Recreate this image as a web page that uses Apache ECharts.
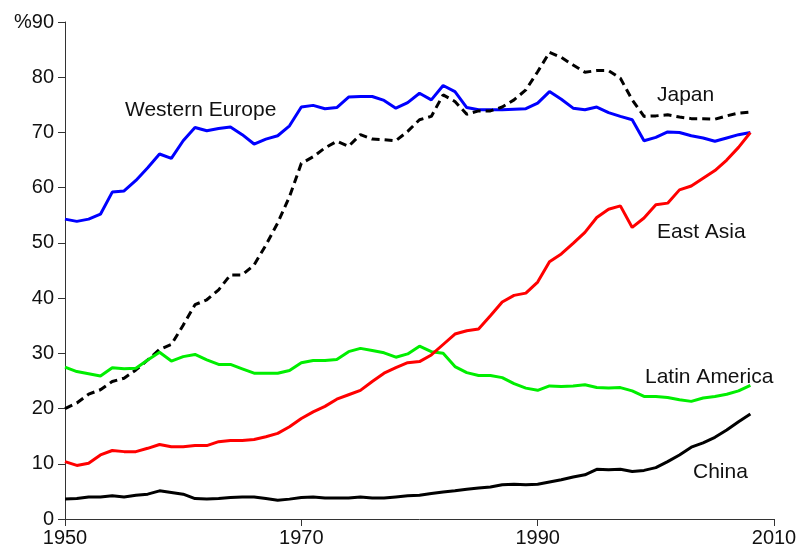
<!DOCTYPE html>
<html>
<head>
<meta charset="utf-8">
<script src="https://cdn.jsdelivr.net/npm/echarts@6/dist/echarts.min.js"></script>
<style>
  html, body { margin: 0; padding: 0; background: #fff; }
  #chart { width: 799px; height: 548px; }
</style>
</head>
<body>
<div id="chart"></div>
<script>
// years on the x axis (1950 - 2010)
var years = ['1950','1951','1952','1953','1954','1955','1956','1957','1958','1959',
             '1960','1961','1962','1963','1964','1965','1966','1967','1968','1969',
             '1970','1971','1972','1973','1974','1975','1976','1977','1978','1979',
             '1980','1981','1982','1983','1984','1985','1986','1987','1988','1989',
             '1990','1991','1992','1993','1994','1995','1996','1997','1998','1999',
             '2000','2001','2002','2003','2004','2005','2006','2007','2008','2009','2010'];

// series values, 1950 - 2008
var westernEurope = [54.3, 53.9, 54.3, 55.2, 59.2, 59.4, 61.3, 63.6, 66.1, 65.3,
                     68.5, 70.9, 70.3, 70.7, 71.0, 69.6, 67.9, 68.8, 69.4, 71.2,
                     74.6, 74.9, 74.3, 74.5, 76.4, 76.5, 76.5, 75.8, 74.4, 75.4,
                     77.1, 75.9, 78.5, 77.4, 74.5, 74.1, 74.1, 74.1, 74.2, 74.3,
                     75.3, 77.4, 76.0, 74.4, 74.1, 74.6, 73.6, 72.9, 72.3, 68.5,
                     69.1, 70.1, 70.0, 69.4, 69.0, 68.4, 69.0, 69.6, 70.0];
var japan = [20.0, 21.0, 22.6, 23.4, 24.9, 25.5, 27.0, 28.8, 30.7, 31.6,
             35.1, 38.8, 39.7, 41.5, 44.2, 44.2, 46.0, 49.6, 53.6, 58.4,
             64.4, 65.6, 67.2, 68.4, 67.5, 69.6, 68.8, 68.7, 68.5, 70.2,
             72.3, 72.9, 76.8, 75.6, 73.3, 73.9, 73.9, 74.6, 75.9, 77.7,
             81.0, 84.5, 83.6, 82.2, 80.9, 81.2, 81.2, 79.8, 75.9, 72.9,
             73.0, 73.2, 72.8, 72.5, 72.5, 72.4, 73.0, 73.5, 73.7];
var eastAsia = [10.4, 9.7, 10.1, 11.6, 12.4, 12.2, 12.2, 12.8, 13.5, 13.1,
                13.1, 13.3, 13.3, 14.0, 14.2, 14.2, 14.4, 14.9, 15.5, 16.7,
                18.2, 19.4, 20.4, 21.7, 22.5, 23.3, 24.9, 26.4, 27.4, 28.3,
                28.5, 29.7, 31.6, 33.5, 34.1, 34.4, 36.8, 39.3, 40.5, 40.9,
                42.9, 46.6, 48.0, 49.9, 51.9, 54.6, 56.1, 56.7, 52.8, 54.5,
                56.9, 57.2, 59.6, 60.3, 61.7, 63.1, 65.0, 67.3, 70.0];
var latinAmerica = [27.5, 26.7, 26.3, 25.9, 27.4, 27.2, 27.3, 28.8, 30.2, 28.6,
                    29.4, 29.8, 28.8, 28.0, 28.0, 27.2, 26.4, 26.4, 26.4, 26.9,
                    28.3, 28.7, 28.7, 28.9, 30.3, 30.9, 30.5, 30.1, 29.3, 29.9,
                    31.3, 30.3, 30.0, 27.6, 26.5, 26.0, 26.0, 25.6, 24.5, 23.7,
                    23.3, 24.1, 24.0, 24.1, 24.3, 23.8, 23.7, 23.8, 23.2, 22.2,
                    22.2, 22.0, 21.6, 21.3, 21.9, 22.2, 22.6, 23.2, 24.2];
var china = [3.6, 3.7, 4.0, 4.0, 4.2, 4.0, 4.3, 4.5, 5.1, 4.8,
             4.5, 3.7, 3.6, 3.7, 3.9, 4.0, 4.0, 3.7, 3.4, 3.6,
             3.9, 4.0, 3.8, 3.8, 3.8, 4.0, 3.8, 3.8, 4.0, 4.2,
             4.3, 4.6, 4.9, 5.1, 5.4, 5.6, 5.8, 6.2, 6.3, 6.2,
             6.3, 6.7, 7.1, 7.6, 8.0, 9.0, 8.9, 9.0, 8.6, 8.8,
             9.3, 10.4, 11.6, 13.0, 13.8, 14.8, 16.1, 17.6, 19.0];

var fontFamily = '"Liberation Sans", Arial, sans-serif';
var textColor = '#111';

var myChart = echarts.init(document.getElementById('chart'));

function lineSeries(name, data, color, dash) {
    return {
        name: name,
        type: 'line',
        data: data,
        showSymbol: false,
        symbol: 'none',
        lineStyle: { color: color, width: 3, type: dash ? [8, 5] : 'solid' },
        itemStyle: { color: color },
        emphasis: { disabled: true }
    };
}

// region labels
function regionLabel(text, x, y) {
    return {
        type: 'text',
        x: x,
        y: y,
        style: {
            text: text,
            fill: textColor,
            font: '21px ' + fontFamily,
            align: 'left',
            verticalAlign: 'middle'
        }
    };
}

var option = {
    animation: false,
    grid: { left: 65, right: 25, top: 22, bottom: 29, outerBoundsMode: 'none' },
    xAxis: {
        type: 'category',
        data: years,
        boundaryGap: false,
        axisLine: { lineStyle: { color: '#333', width: 1 } },
        axisTick: { show: true, interval: 19, length: 7, lineStyle: { color: '#333' } },
        axisLabel: { interval: 19, margin: 9, fontSize: 20, color: textColor, fontFamily: fontFamily },
        splitLine: { show: false }
    },
    yAxis: {
        type: 'value',
        min: 0,
        max: 90,
        interval: 10,
        axisLine: { show: true, lineStyle: { color: '#333', width: 1 } },
        axisTick: { show: true, length: 7, lineStyle: { color: '#333' } },
        axisLabel: {
            margin: 11, fontSize: 20, color: textColor, fontFamily: fontFamily,
            formatter: function (v) { return v === 90 ? '%90' : String(v); }
        },
        splitLine: { show: false }
    },
    series: [
        lineSeries('Western Europe', westernEurope, '#0000ff', false),
        lineSeries('Japan', japan, '#000000', true),
        lineSeries('Latin America', latinAmerica, '#00ee00', false),
        lineSeries('East Asia', eastAsia, '#ff0000', false),
        lineSeries('China', china, '#000000', false)
    ],
    graphic: [
        regionLabel('Western Europe', 125, 110),
        regionLabel('Japan', 657, 95),
        regionLabel('East Asia', 657, 232),
        regionLabel('Latin America', 645, 377),
        regionLabel('China', 693, 472)
    ]
};

myChart.setOption(option);
</script>
</body>
</html>
